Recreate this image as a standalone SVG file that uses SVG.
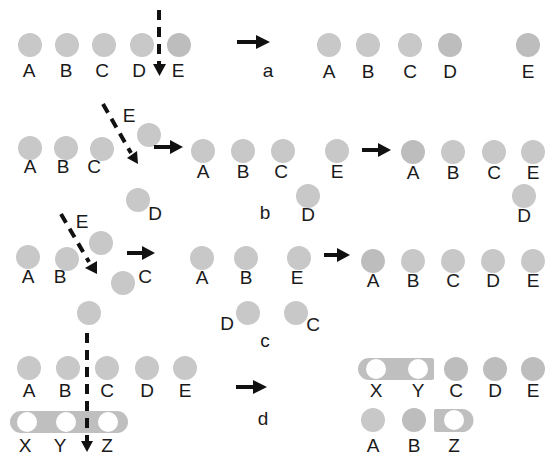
<svg xmlns="http://www.w3.org/2000/svg" width="552" height="457" viewBox="0 0 552 457">
<style>
.n{fill:#c8c8c8}
.d{fill:#bdbdbd}
.w{fill:#ffffff}
.bar{fill:#bfbfbf}
text{font-family:"Liberation Sans",Arial,sans-serif;font-size:19px;fill:#1a1a1a;text-anchor:middle}
.dash{stroke:#111;stroke-width:4;stroke-dasharray:10 7;fill:none}
.ar{stroke:#111;stroke-width:4;fill:none}
.hd{fill:#111}
</style>
<rect width="552" height="457" fill="#ffffff"/>
<!-- Row a left -->
<g id="a-A"><circle class="n" cx="30" cy="45" r="12"/><text x="29" y="77">A</text></g>
<g id="a-B"><circle class="n" cx="67" cy="45" r="12"/><text x="66" y="77">B</text></g>
<g id="a-C"><circle class="n" cx="104" cy="45" r="12"/><text x="102" y="77">C</text></g>
<g id="a-D"><circle class="n" cx="142" cy="45" r="12"/><text x="139" y="77">D</text></g>
<g id="a-E"><circle class="d" cx="179" cy="45" r="12"/><text x="178" y="77">E</text></g>
<text x="268" y="77">a</text>
<!-- Row a right -->
<g id="a2-A"><circle class="n" cx="329" cy="45" r="12"/><text x="329" y="78">A</text></g>
<g id="a2-B"><circle class="n" cx="368" cy="45" r="12"/><text x="368" y="78">B</text></g>
<g id="a2-C"><circle class="n" cx="410" cy="45" r="12"/><text x="410" y="78">C</text></g>
<g id="a2-D"><circle class="d" cx="450" cy="45" r="12"/><text x="450" y="78">D</text></g>
<g id="a2-E"><circle class="d" cx="528" cy="45" r="12"/><text x="528" y="78">E</text></g>
<!-- Row b left -->
<g id="b-A"><circle class="n" cx="30" cy="148" r="12"/><text x="30" y="173">A</text></g>
<g id="b-B"><circle class="n" cx="66" cy="148" r="12"/><text x="63" y="173">B</text></g>
<g id="b-C"><circle class="n" cx="102" cy="149" r="12"/><text x="94" y="173">C</text></g>
<g id="b-E"><circle class="n" cx="149" cy="135" r="12"/><text x="129" y="122">E</text></g>
<g id="b-D"><circle class="n" cx="138" cy="200" r="12"/><text x="155" y="220">D</text></g>
<!-- Row b middle -->
<g id="b2-A"><circle class="n" cx="203" cy="151" r="12"/><text x="203" y="178">A</text></g>
<g id="b2-B"><circle class="n" cx="243" cy="151" r="12"/><text x="243" y="178">B</text></g>
<g id="b2-C"><circle class="n" cx="283" cy="151" r="12"/><text x="281" y="178">C</text></g>
<g id="b2-E"><circle class="n" cx="337" cy="151" r="12"/><text x="337" y="178">E</text></g>
<g id="b2-D"><circle class="n" cx="308" cy="196" r="12"/><text x="308" y="221">D</text></g>
<text x="265" y="219">b</text>
<!-- Row b right -->
<g id="b3-A"><circle class="d" cx="413" cy="152" r="12"/><text x="413" y="179">A</text></g>
<g id="b3-B"><circle class="n" cx="453" cy="152" r="12"/><text x="453" y="179">B</text></g>
<g id="b3-C"><circle class="n" cx="494" cy="152" r="12"/><text x="494" y="179">C</text></g>
<g id="b3-E"><circle class="n" cx="533" cy="152" r="12"/><text x="533" y="179">E</text></g>
<g id="b3-D"><circle class="n" cx="524" cy="196" r="12"/><text x="524" y="222">D</text></g>
<!-- Row c left -->
<g id="c-A"><circle class="n" cx="28" cy="257" r="12"/><text x="28" y="283">A</text></g>
<g id="c-B"><circle class="n" cx="67" cy="259" r="12"/><text x="60" y="283">B</text></g>
<g id="c-E"><circle class="n" cx="101" cy="243" r="12"/><text x="82" y="228">E</text></g>
<g id="c-C"><circle class="n" cx="123" cy="283" r="12"/><text x="145" y="283">C</text></g>
<g id="c-X"><circle class="n" cx="89" cy="313" r="12"/></g>
<!-- Row c middle -->
<g id="c2-A"><circle class="n" cx="202" cy="258" r="12"/><text x="202" y="284">A</text></g>
<g id="c2-B"><circle class="n" cx="246" cy="258" r="12"/><text x="246" y="284">B</text></g>
<g id="c2-E"><circle class="n" cx="299" cy="258" r="12"/><text x="297" y="284">E</text></g>
<g id="c2-D"><circle class="n" cx="248" cy="313" r="12"/><text x="227" y="330">D</text></g>
<g id="c2-C"><circle class="n" cx="296" cy="313" r="12"/><text x="313" y="331">C</text></g>
<text x="265" y="347">c</text>
<!-- Row c right -->
<g id="c3-A"><circle class="d" cx="373" cy="261" r="12"/><text x="373" y="287">A</text></g>
<g id="c3-B"><circle class="n" cx="413" cy="261" r="12"/><text x="413" y="287">B</text></g>
<g id="c3-C"><circle class="n" cx="453" cy="261" r="12"/><text x="453" y="287">C</text></g>
<g id="c3-D"><circle class="n" cx="493" cy="261" r="12"/><text x="493" y="287">D</text></g>
<g id="c3-E"><circle class="n" cx="533" cy="261" r="12"/><text x="533" y="287">E</text></g>
<!-- Row d left -->
<g id="d-A"><circle class="n" cx="29" cy="368" r="12"/><text x="29" y="397">A</text></g>
<g id="d-B"><circle class="n" cx="68" cy="368" r="12"/><text x="65" y="397">B</text></g>
<g id="d-C"><circle class="n" cx="107" cy="368" r="12"/><text x="107" y="397">C</text></g>
<g id="d-D"><circle class="n" cx="147" cy="368" r="12"/><text x="147" y="397">D</text></g>
<g id="d-E"><circle class="n" cx="185" cy="368" r="12"/><text x="185" y="397">E</text></g>
<g id="d-XYZ">
<rect class="bar" x="10" y="411" width="118" height="22" rx="11"/>
<circle class="w" cx="27" cy="422" r="10"/>
<circle class="w" cx="66" cy="422" r="10"/>
<circle class="w" cx="108" cy="422" r="10"/>
<text x="25" y="452">X</text><text x="60" y="452">Y</text><text x="107" y="452">Z</text>
</g>
<text x="263" y="425">d</text>
<!-- Row d right -->
<g id="d2-XY">
<path class="bar" d="M369,358 H432 Q434,358 434,360 V378 Q434,380 432,380 H369 A11,11 0 0 1 369,358 Z"/>
<circle class="w" cx="376" cy="369" r="10"/>
<circle class="w" cx="418" cy="369" r="10"/>
<text x="376" y="397">X</text><text x="418" y="397">Y</text>
</g>
<g id="d2-C"><circle class="d" cx="456" cy="369" r="12"/><text x="456" y="397">C</text></g>
<g id="d2-D"><circle class="d" cx="495" cy="369" r="12"/><text x="495" y="397">D</text></g>
<g id="d2-E"><circle class="d" cx="533" cy="369" r="12"/><text x="533" y="397">E</text></g>
<g id="d2-A"><circle class="n" cx="373" cy="420" r="12"/><text x="373" y="452">A</text></g>
<g id="d2-B"><circle class="d" cx="414" cy="420" r="12"/><text x="414" y="452">B</text></g>
<g id="d2-Z">
<path class="bar" d="M436,409 H462 A11.5,11.5 0 0 1 462,432 H436 Q434,432 434,430 V411 Q434,409 436,409 Z"/>
<circle class="w" cx="454" cy="420" r="10"/>
<text x="454" y="452">Z</text>
</g>
<!-- Connectors -->
<g id="connectors">
<line class="dash" x1="159" y1="10" x2="159" y2="65"/>
<polygon class="hd" points="153,64 166,64 159.5,76"/>
<line class="ar" x1="237" y1="42" x2="258" y2="42"/>
<polygon class="hd" points="256,35 270,42 256,49"/>
<line class="dash" x1="103" y1="104" x2="131" y2="153"/>
<polygon class="hd" points="127,158 137,151 138,164"/>
<line class="ar" x1="154" y1="147" x2="172" y2="147"/>
<polygon class="hd" points="170,140 183,147 170,154"/>
<line class="ar" x1="362" y1="150" x2="380" y2="150"/>
<polygon class="hd" points="378,143 391,150 378,157"/>
<line class="dash" x1="61" y1="214" x2="89" y2="262"/>
<polygon class="hd" points="85,268 97,261 97,274"/>
<line class="ar" x1="127" y1="253" x2="144" y2="253"/>
<polygon class="hd" points="142,246 155,253 142,260"/>
<line class="ar" x1="324" y1="255" x2="339" y2="255"/>
<polygon class="hd" points="337,248 350,255 337,262"/>
<line class="dash" x1="87" y1="333" x2="87" y2="442"/>
<polygon class="hd" points="81,441 93,441 87,452"/>
<line class="ar" x1="236" y1="387" x2="255" y2="387"/>
<polygon class="hd" points="253,380 267,387 253,394"/>
</g>
</svg>
